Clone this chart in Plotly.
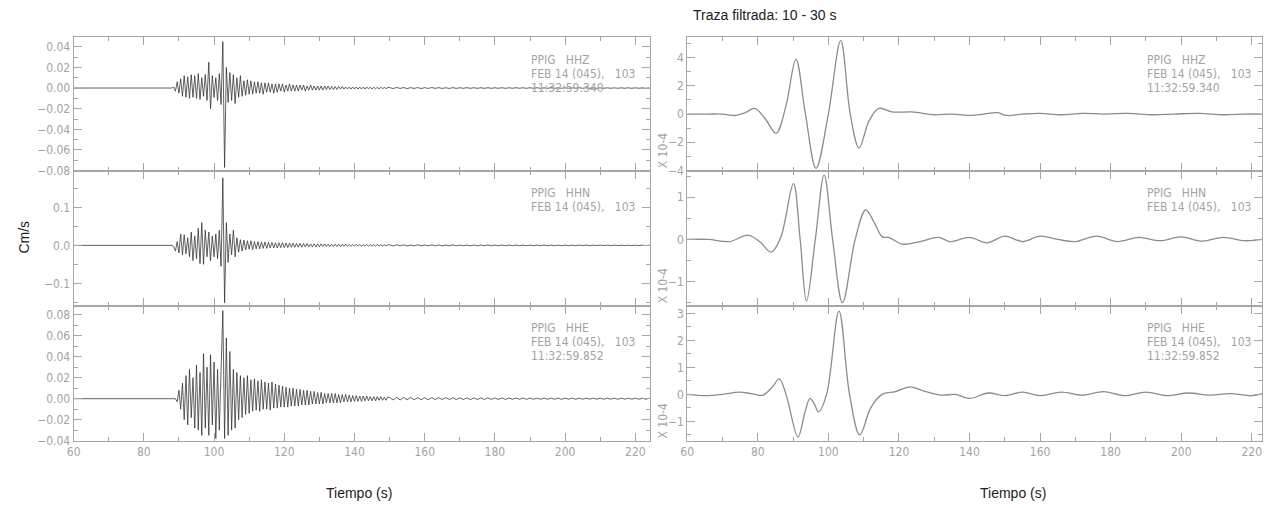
import numpy as np
import plotly.graph_objects as go

# ---------------- data ----------------
# Raw velocity traces (units of 1e-3 cm/s).  Early part sampled every 0.5 s
# starting at 88.0 s, late part every 1.0 s starting at 150.0 s.
HHZ_EARLY = [
    0, 1, -3, 6, -5, 9, -8, 12, -9, 11,
    -10, 13, -9, 12, -10, 14, -11, 10, -8, 13,
    -12, 25, -20, 12, -9, 10, -12, 14, -16, 45,
    -77, 20, -14, 15, -12, 13, -15, 10, -9, 12,
    -8, 7, -7, 8, -6, 7, -6, 6, -5, 6,
    -5, 5, -6, 5, -4, 5, -4, 4, -5, 4,
    -4, 4, -3, 4, -4, 3, -3, 4, -3, 3,
    -3, 3, -3, 3, -2, 3, -3, 2, -2, 3,
    -2, 2, -2, 2, -2, 2, -2, 2, -1.5, 2,
    -1.5, 1.5, -1.5, 1.5, -1.5, 1.5, -1, 1.5, -1, 1,
    -1, 1, -1, 1, -1, 1, -1, 1, -1, 1,
    -1, 1, -0.8, 0.8, -0.8, 0.8, -0.8, 0.8, -0.8, 0.8,
    -0.6, 0.6, -0.6, 0.6,
]
HHZ_LATE = [
    0.5, -0.5, 0.6, -0.4, 0.5, -0.5, 0.4, -0.4, 0.5, -0.5,
    0.4, -0.4, 0.5, -0.3, 0.4, -0.4, 0.3, -0.4, 0.4, -0.3,
    0.3, -0.3, 0.4, -0.3, 0.3, -0.3, 0.3, -0.3, 0.3, -0.3,
    0.3, -0.3, 0.3, -0.3, 0.3, -0.2, 0.3, -0.2, 0.3, -0.3,
    0.3, -0.2, 0.3, -0.3, 0.2, -0.2, 0.3, -0.2, 0.2, -0.2,
    0.2, -0.2, 0.2, -0.2, 0.3, -0.2, 0.2, -0.2, 0.2, -0.2,
    0.2, -0.2, 0.2, -0.2, 0.2, -0.2, 0.2, -0.2, 0.2, -0.2,
    0.2, -0.2, 0.2, -0.2, 0.2,
]
HHN_EARLY = [
    0, -3, -15, 10, -20, 30, -25, 28, -22, 20,
    -30, 35, -40, 25, -35, 45, -48, 60, -50, 40,
    -30, 35, -40, 25, -30, 30, -35, 40, -55, 178,
    -151, 60, -45, 30, -25, 40, -30, 20, -18, 15,
    -15, 14, -12, 12, -10, 12, -11, 10, -9, 10,
    -9, 9, -8, 9, -8, 8, -7, 8, -7, 7,
    -7, 7, -6, 7, -6, 6, -6, 6, -5, 6,
    -5, 5, -5, 5, -5, 5, -4, 5, -4, 4,
    -4, 4, -4, 4, -4, 4, -3, 4, -3, 3,
    -3, 3, -3, 3, -3, 3, -3, 3, -2.5, 3,
    -2.5, 2.5, -2.5, 2.5, -2.5, 2.5, -2, 2.5, -2, 2,
    -2, 2, -2, 2, -2, 2, -2, 2, -1.5, 2,
    -1.5, 1.5, -1.5, 1.5,
]
HHN_LATE = [
    1.5, -1.5, 1.5, -1.2, 1.5, -1.5, 1.2, -1.2, 1.5, -1.2,
    1.2, -1.2, 1.2, -1, 1.2, -1.2, 1, -1, 1.2, -1,
    1, -1, 1, -1, 1, -1, 1, -1, 1, -1,
    1, -1, 1, -0.8, 1, -0.8, 1, -0.8, 0.8, -0.8,
    0.8, -0.8, 0.8, -0.8, 0.8, -0.8, 0.8, -0.8, 0.8, -0.8,
    0.8, -0.8, 0.8, -0.6, 0.8, -0.6, 0.8, -0.6, 0.6, -0.6,
    0.6, -0.6, 0.6, -0.6, 0.6, -0.6, 0.6, -0.6, 0.6, -0.6,
    0.6, -0.6, 0.6, -0.6, 0.6,
]
HHE_EARLY = [
    0, 0, 0, -3, 8, -10, 15, -20, 22, -25,
    28, -18, 20, -28, 32, -30, 25, -35, 43, -28,
    30, -35, 42, -25, 35, -38, 28, -30, 30, 84,
    -38, 58, -35, 45, -30, 28, -28, 25, -20, 22,
    -18, 20, -15, 22, -14, 18, -12, 19, -11, 17,
    -12, 18, -10, 16, -10, 15, -11, 16, -9, 14,
    -9, 13, -8, 12, -8, 11, -8, 10, -7, 10,
    -7, 9, -7, 9, -6, 8, -6, 8, -6, 7,
    -5, 7, -5, 6, -5, 6, -5, 5, -4, 5,
    -4, 5, -4, 5, -4, 4, -4, 4, -3, 4,
    -3, 3.5, -3, 3, -2.5, 3, -2.5, 2.5, -2.5, 2.5,
    -2, 2.5, -2, 2, -2, 2, -2, 2, -1.5, 2,
    -1.5, 1.5, -1.5, 1.5,
]
HHE_LATE = [
    1.2, -1.2, 1.2, -1.2, 1.2, -1, 1.2, -1, 1, -1,
    1, -1, 1, -0.8, 1, -0.8, 1, -0.8, 0.8, -0.8,
    0.8, -0.8, 0.8, -0.8, 0.8, -0.8, 0.8, -0.7, 0.8, -0.7,
    0.7, -0.7, 0.7, -0.7, 0.7, -0.6, 0.7, -0.6, 0.6, -0.6,
    0.6, -0.6, 0.6, -0.6, 0.6, -0.6, 0.6, -0.6, 0.6, -0.6,
    0.6, -0.5, 0.6, -0.5, 0.5, -0.5, 0.5, -0.5, 0.5, -0.5,
    0.5, -0.5, 0.5, -0.5, 0.5, -0.5, 0.5, -0.5, 0.5, -0.5,
    0.5, -0.5, 0.5, -0.5, 0.5,
]

# Band-passed (10-30 s) traces, units of 1e-4 cm/s
HHZ_FILT_T = [60, 66, 70, 73.8, 76.5, 79.1, 82, 85.2, 88, 90.8, 93.5, 96.5, 100,
              103.5, 106.2, 108.7, 111.5, 114.3, 118, 123.7, 130, 135, 140.6, 144,
              148, 150.5, 155, 160, 166, 172, 178, 185, 192, 198, 205, 212, 218, 223]
HHZ_FILT_V = [0, 0, 0, -0.1, 0.1, 0.4, -0.3, -1.35, 0.6, 3.9, 0.0, -3.85, 0.0,
              5.2, 0.0, -2.4, -0.5, 0.4, 0.15, 0.15, -0.05, 0.0, -0.1, 0.0,
              0.1, -0.1, 0.0, 0.05, -0.05, 0.05, 0.0, 0.05, -0.05, 0.0, 0.05, -0.05, 0.0, 0.0]

HHN_FILT_T = [60, 66, 72, 77.2, 80.5, 83.8, 86.5, 90.1, 92, 93.8, 96.3, 98.8, 101.2,
              104, 107.6, 110.6, 113, 115.3, 117.1, 121, 126, 131.2, 134.4, 140,
              145, 150, 155, 160, 165, 170, 176, 182, 188, 194, 200, 206, 212, 218, 223]
HHN_FILT_V = [0, 0, -0.05, 0.1, -0.05, -0.3, 0.05, 1.32, 0.0, -1.46, 0.0, 1.53, 0.0,
              -1.5, 0.0, 0.7, 0.4, 0.06, 0.05, -0.11, -0.05, 0.05, -0.05, 0.05,
              -0.08, 0.08, -0.05, 0.08, 0.0, -0.05, 0.08, -0.05, 0.05, -0.03, 0.06,
              -0.04, 0.05, -0.03, 0.0]

HHE_FILT_T = [60, 65.4, 70, 74.8, 78, 81.4, 84, 86.1, 88, 91.4, 93.3, 94.8, 96, 97.2,
              99.5, 103.0, 106, 108.9, 112, 115.2, 119, 123.2, 126.5, 132.2, 136, 140,
              145.3, 150, 155, 160, 166, 172, 178, 184, 190, 196, 202, 208, 214, 220, 223]
HHE_FILT_V = [0, -0.05, 0, 0.08, 0.03, -0.03, 0.25, 0.57, 0.0, -1.58, -0.7, -0.15,
              -0.35, -0.65, 0.0, 3.08, 0.0, -1.5, -0.5, 0.0, 0.1, 0.28, 0.15, -0.03,
              0.0, -0.15, 0.05, -0.05, 0.08, -0.05, 0.08, -0.03, 0.1, -0.05, 0.08,
              -0.05, 0.05, -0.03, 0.03, -0.05, 0.03]

STATIONS = ["PPIG\u00a0\u00a0\u00a0HHZ", "PPIG\u00a0\u00a0\u00a0HHN", "PPIG\u00a0\u00a0\u00a0HHE"]
DATE_LINE = "FEB 14 (045),\u00a0\u00a0\u00a0103"
CLOCKS = ["11:32:59.340", None, "11:32:59.852"]


def raw_trace(early, late):
    t = np.concatenate([[60.0], 88.0 + 0.5 * np.arange(len(early)),
                        150.0 + np.arange(len(late))])
    v = np.concatenate([[0.0], early, late]) / 1000.0
    return t, v


# ---------------- layout ----------------
W, H = 1267, 508
LEFT_PX = (67, 647)
RIGHT_PX = (684, 1262)
ROWS_PX = [(38, 173), (173, 310), (310, 447)]

AX = "#a6a6a6"
LBL = "#a3a3a3"
NARROW = "Liberation Sans Narrow, DejaVu Sans Condensed, Arial Narrow, sans-serif"
SANS = "Liberation Sans, Arial, sans-serif"


def dom_x(px):
    return [px[0] / W, px[1] / W]


def dom_y(px):
    return [1 - px[1] / H, 1 - px[0] / H]


left_y = [
    dict(range=[-0.080, 0.049], tick0=0, dtick=0.02, minor=0.01, fmt=".2f"),
    dict(range=[-0.159, 0.197], tick0=0, dtick=0.1, minor=0.05, fmt=".1f"),
    dict(range=[-0.0402, 0.0887], tick0=0, dtick=0.02, minor=0.01, fmt=".2f"),
]
right_y = [
    dict(range=[-4.01, 5.43], tick0=0, dtick=2, minor=1, fmt="d"),
    dict(range=[-1.57, 1.63], tick0=0, dtick=1, minor=0.5, fmt="d"),
    dict(range=[-1.72, 3.28], tick0=0, dtick=1, minor=0.5, fmt="d"),
]

fig = go.Figure()
layout = dict(
    width=W, height=H, margin=dict(l=0, r=0, t=0, b=0),
    paper_bgcolor="white", plot_bgcolor="white", showlegend=False,
    font=dict(family=NARROW, color=LBL, size=11),
)

raw = [raw_trace(HHZ_EARLY, HHZ_LATE), raw_trace(HHN_EARLY, HHN_LATE),
       raw_trace(HHE_EARLY, HHE_LATE)]
filt = [(HHZ_FILT_T, HHZ_FILT_V), (HHN_FILT_T, HHN_FILT_V), (HHE_FILT_T, HHE_FILT_V)]

annotations = []
idx = 0
for row in range(3):
    for side in range(2):
        idx += 1
        xa = "xaxis" if idx == 1 else f"xaxis{idx}"
        ya = "yaxis" if idx == 1 else f"yaxis{idx}"
        xr = "x" if idx == 1 else f"x{idx}"
        yr = "y" if idx == 1 else f"y{idx}"
        bottom = row == 2
        xpx = LEFT_PX if side == 0 else RIGHT_PX
        layout[xa] = dict(
            domain=dom_x(xpx), anchor=yr,
            range=[60, 224.3] if side == 0 else [60, 222.9],
            tickmode="linear", tick0=60, dtick=20,
            ticks="inside", ticklen=8, tickcolor=AX, tickwidth=1,
            minor=dict(dtick=10, tick0=60, ticks="inside", ticklen=4,
                       tickcolor=AX, tickwidth=1),
            showline=True, linecolor=AX, linewidth=1, mirror="allticks",
            showgrid=False, zeroline=False,
            showticklabels=bottom, tickfont=dict(family=NARROW, size=12, color=LBL),
        )
        yspec = left_y[row] if side == 0 else right_y[row]
        layout[ya] = dict(
            domain=dom_y(ROWS_PX[row]), anchor=xr,
            range=yspec["range"], tickmode="linear", tick0=yspec["tick0"],
            dtick=yspec["dtick"], tickformat=yspec["fmt"],
            ticks="inside", ticklen=8, tickcolor=AX, tickwidth=1,
            minor=dict(dtick=yspec["minor"], tick0=0, ticks="inside", ticklen=4,
                       tickcolor=AX, tickwidth=1),
            showline=True, linecolor=AX, linewidth=1, mirror="allticks",
            showgrid=False, zeroline=False,
            tickfont=dict(family=NARROW, size=12, color=LBL),
        )
        if side == 0:
            t, v = raw[row]
            fig.add_trace(go.Scatter(x=t, y=v, mode="lines", xaxis=xr, yaxis=yr,
                                     line=dict(color="#2e2e2e", width=0.75),
                                     hoverinfo="skip"))
        else:
            t, v = filt[row]
            fig.add_trace(go.Scatter(x=t, y=v, mode="lines", xaxis=xr, yaxis=yr,
                                     line=dict(color="#8c8c8c", width=1.3,
                                               shape="spline", smoothing=1.0),
                                     hoverinfo="skip"))
            # scale factor label beside the axis
            annotations.append(dict(
                x=660 / W, y=1 - (ROWS_PX[row][1] - 20) / H, xref="paper", yref="paper",
                text="X 10-4", textangle=-90, showarrow=False,
                xanchor="center", yanchor="middle",
                font=dict(family=NARROW, size=12, color=LBL)))

        # station header text inside each panel
        x0 = (525 if side == 0 else 1144) / W
        top = ROWS_PX[row][0]
        lines = [STATIONS[row], DATE_LINE] + ([CLOCKS[row]] if CLOCKS[row] else [])
        for k, txt in enumerate(lines):
            annotations.append(dict(
                x=x0, y=1 - (top + 23 + 14 * k) / H, xref="paper", yref="paper",
                text=txt, showarrow=False, xanchor="left", yanchor="middle",
                font=dict(family=NARROW, size=12, color=LBL)))

annotations += [
    dict(x=17 / W, y=1 - 240 / H, xref="paper", yref="paper", text="Cm/s",
         textangle=-90, showarrow=False, xanchor="center", yanchor="middle",
         font=dict(family=SANS, size=14, color="#222")),
    dict(x=354 / W, y=1 - 500 / H, xref="paper", yref="paper", text="Tiempo (s)",
         showarrow=False, xanchor="center", yanchor="middle",
         font=dict(family=SANS, size=14, color="#222")),
    dict(x=1012 / W, y=1 - 500 / H, xref="paper", yref="paper", text="Tiempo (s)",
         showarrow=False, xanchor="center", yanchor="middle",
         font=dict(family=SANS, size=14, color="#222")),
    dict(x=762 / W, y=1 - 15 / H, xref="paper", yref="paper",
         text="Traza filtrada: 10 - 30 s", xanchor="center", yanchor="middle",
         showarrow=False, font=dict(family=SANS, size=14, color="#222")),
]
layout["annotations"] = annotations
fig.update_layout(**layout)
fig.write_html("out.html")
